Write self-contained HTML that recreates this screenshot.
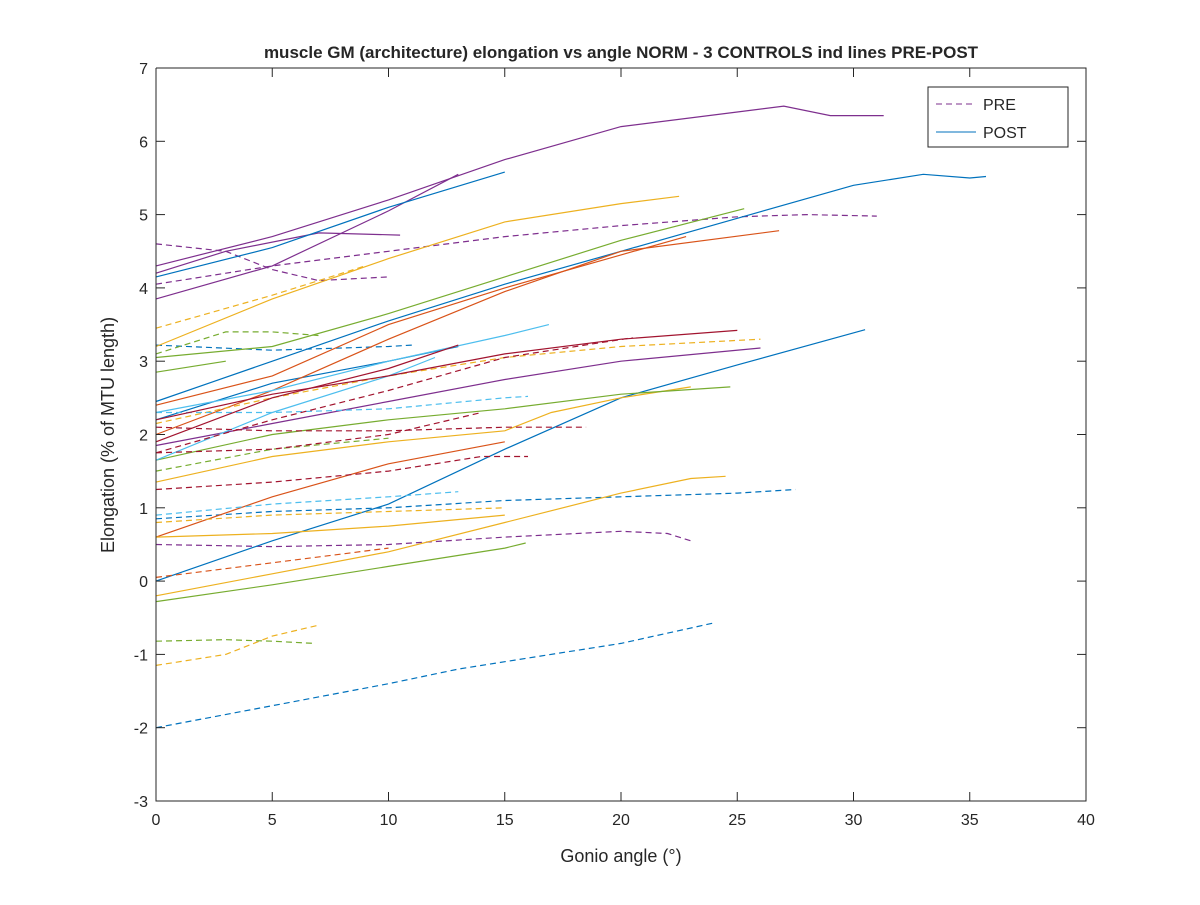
<!DOCTYPE html>
<html><head><meta charset="utf-8"><style>
body{margin:0;background:#fff;font-family:"Liberation Sans",sans-serif}
svg text{font-family:"Liberation Sans",sans-serif;fill:#262626}
</style></head><body>
<svg id="chart" width="1200" height="900" xmlns="http://www.w3.org/2000/svg">
<rect width="1200" height="900" fill="#fff"/>
<g id="plot"></g>
<g id="axes"></g>
</svg>
<script>
const xTicks=[0,5,10,15,20,25,30,35,40];
const yTicks=[-3,-2,-1,0,1,2,3,4,5,6,7];
const C={b:"#0072BD",o:"#D95319",y:"#EDB120",p:"#7E2F8E",g:"#77AC30",c:"#4DBEEE",r:"#A2142F"};
const seriesColor=["p","p","p","p","p","p","p","b","b","b","b","b","b","b","o","o","o","o","y","y","y","y","y","y","y","y","g","g","g","g","g","g","g","c","c","c","c","r","r","r","r","r","r"];
const seriesDashed=[0,0,0,0,1,1,1,0,0,0,0,1,1,1,0,0,0,1,0,0,0,0,1,1,1,1,0,0,0,0,1,1,1,0,0,1,1,0,0,1,1,1,1];
const seriesX=[
[0,5,10,15,20,25,27,29,31.3],[0,3,7,10.5],[0,5,10,13],[0,5,10,15,20,26],
[0,5,10,15,20,25,28,31],[0,3,5,7,10],[0,5,10,15,20,22,23],
[0,5,10,15],[0,5,10,15,20,25,30,33,35,35.7],[0,5,10,15,20,25,30.5],[0,5,10,13],
[0,5,10,13,15,20,24],[0,5,10,15,20,25,27.5],[0,5,10,11],
[0,5,10,15,20,22.8],[0,5,10,15,20,26.8],[0,5,10,15],[0,5,10],
[0,5,10,15,20,22.5],[0,5,10,15,17,20,23],[0,5,10,15,20,23,24.5],[0,5,10,15],
[0,5,9],[0,3,5,7],[0,5,10,15,20,26],[0,5,10,15],
[0,5,10,15,20,25.3],[0,3],[0,5,10,15,20,24.7],[0,5,10,15,15.9],
[0,3,5,7],[0,5,10],[0,3,5,6.8],
[0,5,10,15,16.9],[0,5,10,12],[0,5,10,15,16],[0,5,10,13],
[0,5,10,15,20,25],[0,5,10,13],[0,5,10,14,16],[0,5,10,15,18.5],[0,5,10,14],[0,5,10,15,20.5]];
const seriesY=[
[4.3,4.7,5.2,5.75,6.2,6.4,6.48,6.35,6.35],[4.2,4.5,4.75,4.72],[3.85,4.3,5.05,5.55],[1.85,2.15,2.45,2.75,3.0,3.18],
[4.05,4.3,4.5,4.7,4.85,4.97,5.0,4.98],[4.6,4.5,4.25,4.1,4.15],[0.5,0.47,0.5,0.6,0.68,0.65,0.55],
[4.15,4.55,5.1,5.58],[2.45,3.0,3.55,4.05,4.5,4.95,5.4,5.55,5.5,5.52],[0.0,0.55,1.05,1.8,2.5,2.95,3.43],[2.2,2.7,3.0,3.2],
[-2.0,-1.7,-1.4,-1.2,-1.1,-0.85,-0.57],[0.85,0.95,1.0,1.1,1.15,1.2,1.25],[3.22,3.15,3.2,3.22],
[2.4,2.8,3.5,4.0,4.45,4.7],[2.0,2.6,3.3,3.95,4.5,4.78],[0.6,1.15,1.6,1.9],[0.05,0.25,0.45],
[3.2,3.85,4.4,4.9,5.15,5.25],[1.35,1.7,1.9,2.05,2.3,2.5,2.65],[-0.2,0.1,0.4,0.8,1.2,1.4,1.43],[0.6,0.65,0.75,0.9],
[3.45,3.9,4.3],[-1.15,-1.0,-0.75,-0.6],[2.15,2.5,2.8,3.05,3.2,3.3],[0.8,0.9,0.95,1.0],
[3.05,3.2,3.65,4.15,4.65,5.08],[2.85,3.0],[1.65,2.0,2.2,2.35,2.55,2.65],[-0.28,-0.05,0.2,0.45,0.52],
[3.1,3.4,3.4,3.35],[1.5,1.8,1.95],[-0.82,-0.8,-0.82,-0.85],
[2.3,2.6,3.0,3.35,3.5],[1.65,2.3,2.8,3.05],[2.3,2.3,2.35,2.5,2.52],[0.9,1.05,1.15,1.22],
[2.2,2.55,2.8,3.1,3.3,3.42],[1.9,2.5,2.9,3.22],[1.25,1.35,1.5,1.7,1.7],[2.1,2.05,2.05,2.1,2.1],[1.75,1.8,2.0,2.3],[1.75,2.2,2.6,3.05,3.32]];
const X0=156,X1=1086,Y0=801,Y1=68;
const sx=v=>X0+(v-0)/40*(X1-X0);
const sy=v=>Y0-(v+3)/10*(Y0-Y1);
const NS="http://www.w3.org/2000/svg";
function mk(t,a,p){const e=document.createElementNS(NS,t);for(const k in a)e.setAttribute(k,a[k]);p.appendChild(e);return e;}
const plot=document.getElementById('plot'),axes=document.getElementById('axes');
seriesX.forEach((xs,i)=>{
 const d=xs.map((x,j)=>(j?'L':'M')+sx(x).toFixed(1)+','+sy(seriesY[i][j]).toFixed(1)).join('');
 const p=mk('path',{d:d,fill:'none',stroke:C[seriesColor[i]],'stroke-width':1.2,'stroke-dasharray':seriesDashed[i]?'6,4':'none'},plot);
 
 
});
mk('path',{d:`M${X0},${Y1}V${Y0}H${X1}V${Y1}H${X0}`,fill:'none',stroke:'#262626','stroke-width':1},axes);
xTicks.forEach(t=>{
 mk('line',{x1:sx(t),x2:sx(t),y1:Y0,y2:Y0-9,stroke:'#262626'},axes);
 mk('line',{x1:sx(t),x2:sx(t),y1:Y1,y2:Y1+9,stroke:'#262626'},axes);
 const tx=mk('text',{x:sx(t),y:Y0+24,'text-anchor':'middle','font-size':16},axes);tx.textContent=t;
 
 
});
yTicks.forEach(t=>{
 mk('line',{x1:X0,x2:X0+9,y1:sy(t),y2:sy(t),stroke:'#262626'},axes);
 mk('line',{x1:X1,x2:X1-9,y1:sy(t),y2:sy(t),stroke:'#262626'},axes);
 const tx=mk('text',{x:X0-8,y:sy(t)+6,'text-anchor':'end','font-size':16},axes);tx.textContent=t;
 
 
});
</script>
<svg style="position:absolute;left:0;top:0" width="1200" height="900" xmlns="http://www.w3.org/2000/svg">
<text x="621" y="58" text-anchor="middle" font-size="17" font-weight="bold" fill="#000">muscle GM (architecture) elongation vs angle NORM - 3 CONTROLS ind lines PRE-POST</text>
<text x="621" y="862" text-anchor="middle" font-size="18">Gonio angle (°)</text>
<text transform="translate(114,435) rotate(-90)" text-anchor="middle" font-size="18">Elongation (% of MTU length)</text>
<g>
<rect x="928" y="87" width="140" height="60" fill="#fff" stroke="#262626"/>
<line x1="936" y1="104" x2="976" y2="104" stroke="#7E2F8E" stroke-dasharray="6,4"/>
<text x="983" y="110" font-size="16">PRE</text>
<line x1="936" y1="132" x2="976" y2="132" stroke="#0072BD"/>
<text x="983" y="138" font-size="16">POST</text>
</g>
</svg>
</body></html>
